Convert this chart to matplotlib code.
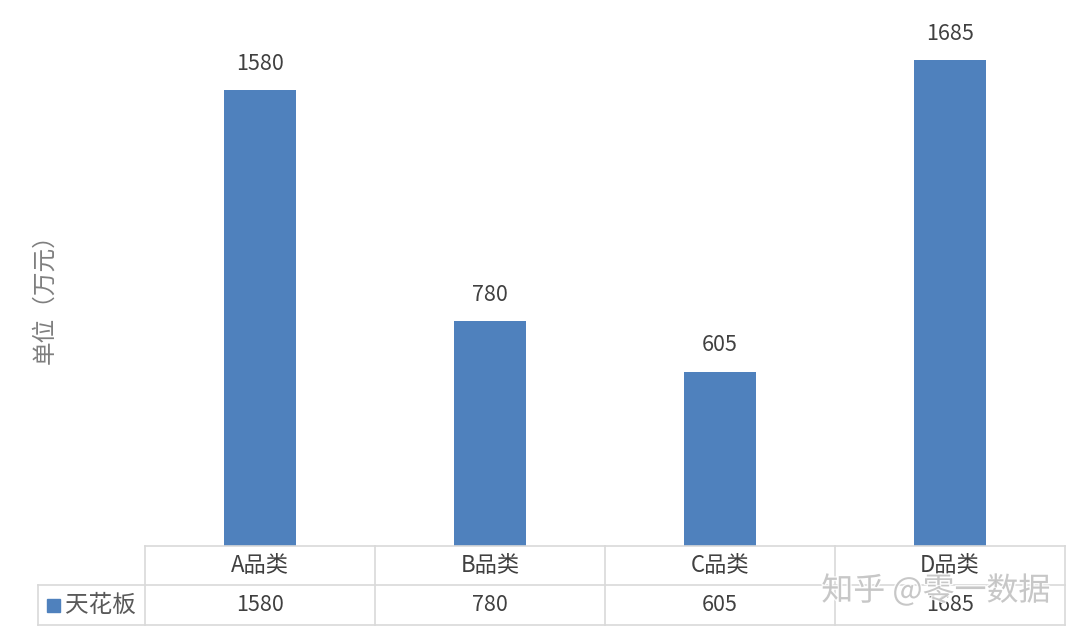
import matplotlib.pyplot as plt
import matplotlib.patheffects as pe
from matplotlib.patches import Rectangle

plt.rcParams['font.family'] = ['Noto Sans CJK SC', 'DejaVu Sans']

categories = ['A品类', 'B品类', 'C品类', 'D品类']
values = [1580, 780, 605, 1685]
series_name = '天花板'

bar_color = '#4f81bd'
text_color = '#404040'
grid_color = '#d9d9d9'

W, H = 1080, 636
fig = plt.figure(figsize=(W / 100, H / 100), dpi=100)

# plot area in pixels
left, right, base, top = 145, 1065, 546, 27
ax = fig.add_axes([left / W, (H - base) / H, (right - left) / W, (base - top) / H])
x = list(range(len(categories)))
ax.bar(x, values, width=0.31, color=bar_color)
ax.set_xlim(-0.5, len(categories) - 0.5)
ax.set_ylim(0, 1800)
for s in ax.spines.values():
    s.set_visible(False)
ax.set_xticks([])
ax.set_yticks([])
for xi, v in zip(x, values):
    ax.annotate(str(v), (xi, v), xytext=(0, 11), textcoords='offset points',
                ha='center', va='bottom', fontsize=15.5, color=text_color)

# y label
fig.text(45 / W, 1 - 293 / H, '单位（万元）', rotation=90, ha='center', va='center',
         fontsize=17, color='#7f7f7f')

# data table below the plot
row1, row2, row3 = 546, 585, 625


def hline(x0, x1, py):
    fig.add_artist(plt.Line2D([x0 / W, x1 / W], [1 - py / H, 1 - py / H],
                              transform=fig.transFigure, color=grid_color, lw=1.2))


def vline(px, y0, y1):
    fig.add_artist(plt.Line2D([px / W, px / W], [1 - y0 / H, 1 - y1 / H],
                              transform=fig.transFigure, color=grid_color, lw=1.2))


hline(left, right, row1)
hline(38, right, row2)
hline(38, right, row3)
vline(38, row2, row3)
n = len(categories)
for i in range(n + 1):
    vline(left + (right - left) * i / n, row1, row3)

for xi, cat, v in zip(x, categories, values):
    xd = ax.transData.transform((xi, 0))[0]
    fig.text(xd / W, 1 - (row1 + row2) / 2 / H, cat, ha='center', va='center',
             fontsize=16, color=text_color)
    fig.text(xd / W, 1 - (row2 + row3) / 2 / H, str(v), ha='center', va='center',
             fontsize=15.5, color=text_color)

# legend key in table
fig.add_artist(Rectangle((47 / W, 1 - 612 / H), 13 / W, 13 / H,
                         transform=fig.transFigure, color=bar_color))
fig.text(65 / W, 1 - (row2 + row3) / 2 / H, series_name, ha='left', va='center',
         fontsize=17, color='#595959')

# watermark
fig.text(936 / W, 1 - 591 / H, '知乎 @零一数据', ha='center', va='center',
         fontsize=23, color='#bfbfbf', alpha=0.85,
         path_effects=[pe.withStroke(linewidth=2, foreground='white')])

fig.savefig('out.png', dpi=100)
